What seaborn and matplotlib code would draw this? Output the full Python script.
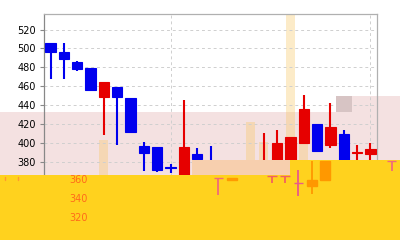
import matplotlib
matplotlib.use("Agg")
import matplotlib.pyplot as plt
import seaborn as sns
from matplotlib.patches import Rectangle, Polygon
from matplotlib.lines import Line2D

# ---- data ----
idx = list(range(25))
opens  = [505.5, 496.6, 485.3, 479.3, 448.8, 459.4, 447.0, 396.3, 395.8, 374.0, 362.0, 388.0, 380.0,
          372.0, 377.0, 375.0, 372.0, 376.0, 378.0, 399.4, 419.8, 397.6, 408.9, 389.0, 388.0]
closes = [496.6, 488.9, 478.2, 456.0, 464.8, 448.8, 411.0, 388.5, 371.0, 373.0, 395.3, 382.4, 378.0,
          376.0, 373.0, 378.0, 380.0, 399.4, 405.7, 435.5, 391.5, 417.0, 378.0, 389.8, 393.0]
highs  = [505.5, 505.5, 486.7, 479.3, 464.8, 459.4, 447.0, 400.5, 395.8, 377.0, 445.5, 394.8, 396.0,
          379.0, 380.0, 380.0, 410.0, 413.5, 405.7, 450.6, 419.8, 442.5, 413.5, 397.6, 399.4]
lows   = [467.6, 467.6, 476.4, 456.0, 408.0, 397.0, 411.0, 369.6, 369.0, 368.0, 360.0, 376.0, 376.0,
          370.0, 370.0, 372.0, 370.0, 374.0, 376.0, 399.4, 390.5, 394.7, 376.0, 375.0, 380.0]
volume = [14, 10, 8, 12, 41, 13, 18, 15, 12, 9, 20, 11, 16, 14, 12, 49.5, 40, 22, 110, 40, 19, 17, 21, 10, 8]

y_ticks = [320, 340, 360, 380, 400, 420, 440, 460, 480, 500, 520]
x_grid = [9, 24]
ghost_labels = ["360", "340", "320"]
ghost_label_vals = [360, 340, 320]

# ghost candles seen on the yellow strip
g_x     = [12.6, 13.6, 16.6, 17.6, 18.6, 19.6, 20.6, 25.6]
g_open  = [362.0, 362.0, 364.7, 364.7, 357.2, 360.4, 381.0, 381.0]
g_close = [362.0, 360.0, 364.7, 364.7, 357.2, 354.0, 360.4, 381.0]
g_high  = [362.0, 362.0, 364.7, 364.7, 371.0, 381.0, 381.0, 381.0]
g_low   = [344.4, 360.0, 357.2, 357.2, 343.4, 345.5, 360.4, 370.0]
g_col   = ["#f06a7a", "#ff9a00", "#f26060", "#f26060", "#e85a8a", "#ff9800", "#ff9800", "#f06a7a"]

UP, DOWN = "#e60000", "#0000ee"

sns.set_style("white")
plt.rcParams["font.family"] = ["DejaVu Sans"]

W, H = 400, 240
fig = plt.figure(figsize=(4, 2.4), dpi=100, facecolor="white")

def fx(px): return px / W
def fy(py): return 1 - py / H

pos = [fx(44), fy(228), fx(377) - fx(44), fy(14) - fy(228)]
YLIM = (309.4, 536.6)
XLIM = (-0.5, 24.5)

# pink band behind the axes
pink = Polygon([(fx(0), fy(112)), (fx(336), fy(112)), (fx(336), fy(96)), (fx(400), fy(96)),
                (fx(400), fy(175)), (fx(0), fy(175))], closed=True, transform=fig.transFigure,
               facecolor="#f4e1e1", edgecolor="none", zorder=-2)
fig.patches.append(pink)

ax = fig.add_axes(pos)
ax.set_facecolor("none")
ax.set_zorder(0)

# volume (twin axis, behind candles)
axv = ax.twinx()
axv.set_zorder(-1)
axv.patch.set_visible(False)
sns.barplot(x=idx, y=volume, native_scale=True, ax=axv, color="#f9c662", alpha=0.35,
            width=0.68, linewidth=0, saturation=1)
axv.set_ylim(0, 100)
axv.set_xlim(*XLIM)
axv.set_yticks([])
axv.set_ylabel("")
for s in axv.spines.values():
    s.set_visible(False)

# candles
cols = [UP if c >= o else DOWN for o, c in zip(opens, closes)]
ax.vlines(idx, lows, highs, colors=cols, linewidth=1.5, zorder=3)
ax.bar(idx, [c - o for o, c in zip(opens, closes)], bottom=opens, width=0.78,
       color=cols, edgecolor=cols, linewidth=0.8, zorder=4)

ax.set_xlim(*XLIM)
ax.set_ylim(*YLIM)
ax.set_yticks(y_ticks)
ax.set_xticks(x_grid)
ax.set_xticklabels([])
ax.tick_params(axis="y", labelsize=7, length=3, width=0.8, color="#888888", pad=3, labelcolor="black")
ax.tick_params(axis="x", length=0)
ax.grid(True, color="#cfcfcf", linewidth=0.7, linestyle=(0, (3, 3)))
ax.spines["left"].set_color("#888888")
ax.spines["top"].set_color("#b0b0b0")
ax.spines["right"].set_color("#b0b0b0")
ax.spines["bottom"].set_visible(False)
for s in ["left", "top", "right"]:
    ax.spines[s].set_linewidth(0.9)

# yellow strip and peach patch above the axes
yellow = Polygon([(fx(0), fy(175)), (fx(290), fy(175)), (fx(290), fy(160)), (fx(400), fy(160)),
                  (fx(400), fy(240)), (fx(0), fy(240))], closed=True, transform=fig.transFigure,
                 facecolor="#ffd21e", edgecolor="none", zorder=1)
fig.patches.append(yellow)
fig.patches.append(Rectangle((fx(192), fy(175)), fx(290) - fx(192), fy(160) - fy(175),
                             transform=fig.transFigure, facecolor="#f7cfae", edgecolor="none", zorder=1))
fig.patches.append(Rectangle((fx(336), fy(112)), fx(352) - fx(336), fy(96) - fy(112),
                             transform=fig.transFigure, facecolor="#d7c4c4", edgecolor="none", zorder=1))

# ghost candles on top
axg = fig.add_axes(pos)
axg.set_zorder(2)
axg.patch.set_visible(False)
axg.axis("off")
axg.set_xlim(*XLIM)
axg.set_ylim(*YLIM)
axg.vlines(g_x, g_low, g_high, colors=g_col, linewidth=1.3, clip_on=False)
axg.bar(g_x, [c - o for o, c in zip(g_open, g_close)], bottom=g_open, width=0.72,
        color=g_col, edgecolor=g_col, linewidth=1.0, clip_on=False)

# orange tick labels on the yellow strip
for lab, v in zip(ghost_labels, ghost_label_vals):
    py = ax.transData.transform((0, v))[1]
    fig.text(fx(69), py / fig.dpi / fig.get_figheight(), lab, fontsize=7, color="#ff6a1a",
             ha="left", va="center", zorder=5)

for px in (5, 18):
    fig.lines.append(Line2D([fx(px), fx(px)], [fy(177), fy(180)], transform=fig.transFigure,
                            color="#ff9a30", linewidth=1.0, zorder=4))

fig.savefig("out.png", dpi=100, facecolor="white")
